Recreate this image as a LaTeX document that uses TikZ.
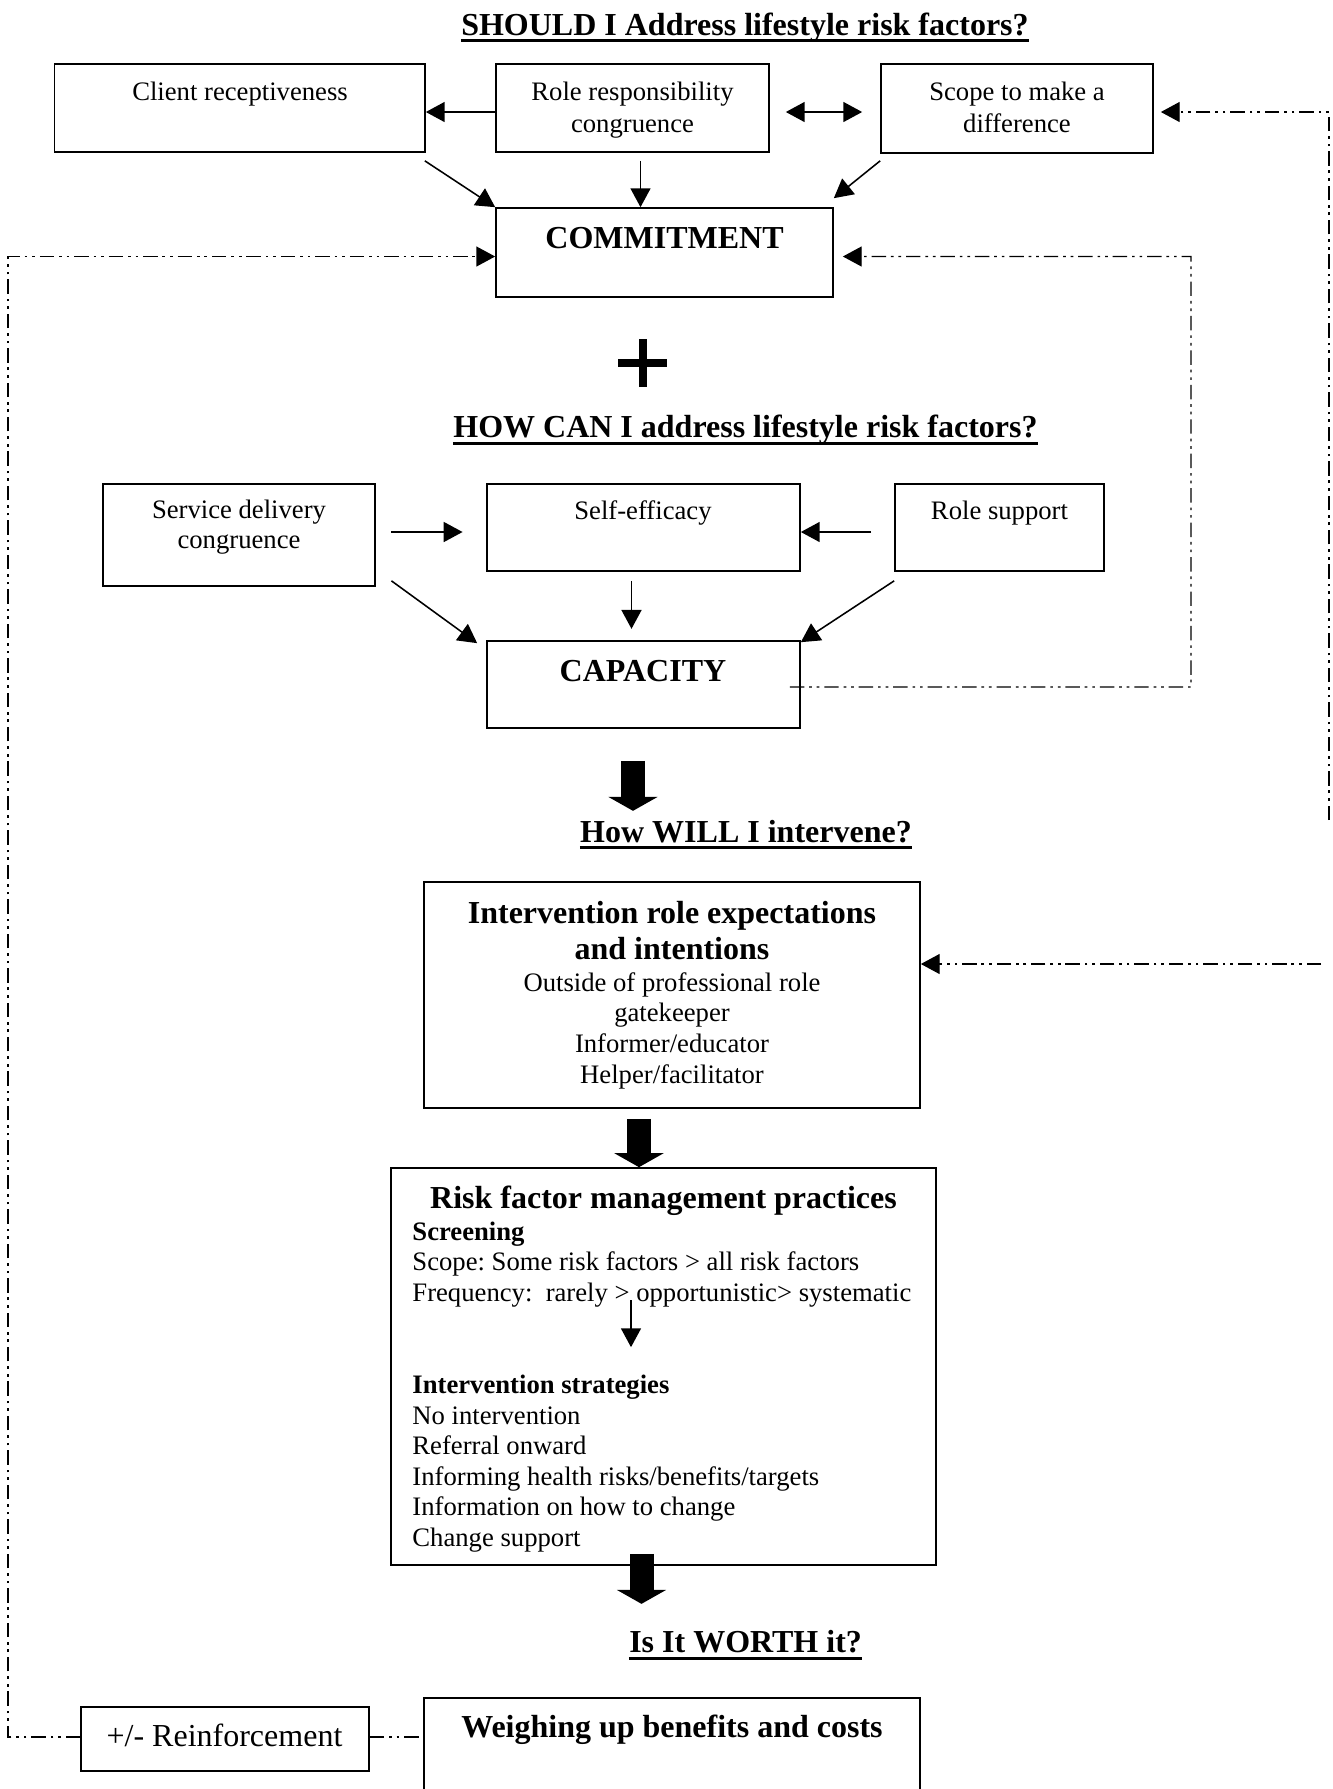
\documentclass[tikz,border=0pt]{standalone}
\usepackage{fontspec}
\setmainfont{Liberation Serif}
\usetikzlibrary{arrows.meta,calc,fit}
\frenchspacing
\begin{document}
\begin{tikzpicture}[x=0.45pt, y=-0.45pt,
  box/.style={draw, line width=0.75pt, inner sep=0pt, rectangle},
  txt/.style={inner sep=0pt, anchor=base, font=\fontsize{12}{14}\selectfont},
  txl/.style={txt, anchor=base west},
  txb/.style={txl, font=\fontsize{12}{14}\selectfont\bfseries},
  hd/.style={inner sep=0pt, anchor=base, font=\fontsize{14.4}{17}\selectfont\bfseries},
  big/.style={inner sep=0pt, anchor=base, font=\fontsize{14.4}{17}\selectfont},
  arr/.style={line width=0.7pt, -{Triangle[length=8.5pt,width=9pt]}},
  darr/.style={line width=0.7pt, {Triangle[length=8.5pt,width=9pt]}-{Triangle[length=8.5pt,width=9pt]}},
  dd/.style={line width=0.65pt, dash pattern=on 6.5pt off 2.2pt on 1.2pt off 2.2pt on 1.2pt off 2.2pt},
  ddarr/.style={dd, -{Triangle[length=8.5pt,width=9pt]}},
  blk/.style={line width=10.8pt, -{Triangle[length=6.3pt,width=22pt]}},
  uline/.style={line width=1.35pt}]

\fill[white] (0,0) rectangle (1333,1789);
\useasboundingbox (0,0) rectangle (1333,1789);
\clip (0,0) rectangle (1333,1789);

% ---------- titles ----------
\node[hd] (t1) at (745,35) {SHOULD I Address lifestyle risk factors?};
\draw[uline] ($(t1.base west)+(0,5)$) -- ($(t1.base east)+(0,5)$);
\node[hd] (t2) at (745.5,437) {HOW CAN I address lifestyle risk factors?};
\draw[uline] ($(t2.base west)+(0,6)$) -- ($(t2.base east)+(0,6)$);
\node[hd] (t3) at (746,842) {How WILL I intervene?};
\draw[uline] ($(t3.base west)+(0,5)$) -- ($(t3.base east)+(0,5)$);
\node[hd] (t4) at (745.6,1652) {Is It WORTH it?};
\draw[uline] ($(t4.base west)+(0,6)$) -- ($(t4.base east)+(0,6)$);

% ---------- boxes ----------
\node[box, fit={(54.5,64) (425,152)}] (client) {};
\node[box, fit={(496,64) (769,152)}] (role) {};
\node[box, fit={(881,64) (1153,153)}] (scope) {};
\node[box, fit={(496,208) (833,297)}] (commit) {};
\node[box, fit={(103,484) (375,586)}] (sd) {};
\node[box, fit={(487,484) (800,571)}] (self) {};
\node[box, fit={(895,484) (1104,571)}] (rs) {};
\node[box, fit={(487,641) (800,728)}] (cap) {};
\node[box, fit={(424,882) (920,1108)}] (inter) {};
\node[box, fit={(391,1168) (936,1565)}] (risk) {};
\node[box, fit={(81,1707) (369,1771)}] (rein) {};
\node[box, fit={(424,1698) (920,1800)}] (weigh) {};

% ---------- box texts ----------
\node[txt] (client-t) at (240,100) {Client receptiveness};
\node[txt] (role-t1) at (632.5,100) {Role responsibility};
\node[txt] (role-t2) at (632.5,132) {congruence};
\node[txt] (scope-t1) at (1017,100) {Scope to make a};
\node[txt] (scope-t2) at (1017,132) {difference};
\node[hd] (commit-t) at (664.5,248) {COMMITMENT};

\node[txt] (sd-t1) at (239,518) {Service delivery};
\node[txt] (sd-t2) at (239,548) {congruence};
\node[txt] (self-t) at (643,519) {Self-efficacy};
\node[txt] (rs-t) at (999.5,519) {Role support};
\node[hd] (cap-t) at (643,681) {CAPACITY};

\node[hd] (inter-h1) at (672,923.5) {Intervention role expectations};
\node[hd] (inter-h2) at (672,959) {and intentions};
\node[txt] (inter-1) at (672,991) {Outside of professional role};
\node[txt] (inter-2) at (672,1021.5) {gatekeeper};
\node[txt] (inter-3) at (672,1052.5) {Informer/educator};
\node[txt] (inter-4) at (672,1083.5) {Helper/facilitator};

\node[hd] (risk-h) at (663.5,1208) {Risk factor management practices};
\node[txb] (risk-s) at (412,1240) {Screening};
\node[txl] (risk-1) at (412,1270.5) {Scope: Some risk factors > all risk factors};
\node[txl] (risk-2) at (412,1301) {Frequency:\ \ rarely > opportunistic> systematic};
\node[txb] (risk-i) at (412,1393.5) {Intervention strategies};
\node[txl] (risk-3) at (412,1424) {No intervention};
\node[txl] (risk-4) at (412,1454.5) {Referral onward};
\node[txl] (risk-5) at (412,1485) {Informing health risks/benefits/targets};
\node[txl] (risk-6) at (412,1515.5) {Information on how to change};
\node[txl] (risk-7) at (412,1546) {Change support};

\node[hd] (weigh-t) at (672,1737) {Weighing up benefits and costs};
\node[big] (rein-t) at (224.5,1746) {+/- Reinforcement};

% ---------- plus sign ----------
\fill (618,359) rectangle (667,367);
\fill (638.5,339) rectangle (647,387);

% ---------- solid connectors ----------
\draw[arr] ($(role.west)+(0,4)$) -- ($(client.east)+(0,4)$);
\draw[darr] ($(role.east)+(16,4)$) -- ($(scope.west)+(-18,3.5)$);
\draw[arr] ($(client.south east)+(-1,8)$) -- (commit.north west);
\coordinate (rc) at ($(role.south)+(8,8)$);
\draw[arr] (rc) -- (rc |- commit.north);
\draw[arr] ($(scope.south west)+(0,7)$) -- ($(commit.north east)+(0,-9)$);

\draw[arr] ($(sd.east)+(15.6,-3)$) -- ($(self.west)+(-23.6,4.5)$);
\draw[arr] ($(rs.west)+(-23,4.5)$) -- ($(self.east)+(0,4.5)$);
\draw[arr] ($(sd.south east)+(15.6,-6)$) -- ($(cap.north west)+(-9,3)$);
\draw[arr] ($(self.south)+(-12,9)$) -- ($(self.south)+(-12,57)$);
\draw[arr] ($(rs.south west)+(0,9)$) -- ($(cap.north east)+(0,2)$);

\draw[arr] ($(risk.north)+(-32.5,133)$) -- ($(risk.north)+(-32.5,180)$);

% ---------- block arrows ----------
\coordinate (b1s) at ($(cap.south)+(-10.5,32)$);
\coordinate (b1e) at ($(cap.south)+(-10.5,82)$);
\draw[blk] (b1s) -- (b1e);
\coordinate (b2s) at ($(inter.south)+(-33,10)$);
\draw[blk] (b2s) -- (b2s |- risk.north);
\coordinate (b3s) at ($(risk.south)+(-22,-12)$);
\coordinate (b3e) at ($(risk.south)+(-22,38)$);
\draw[blk] (b3s) -- (b3e);

% ---------- dash-dot feedback lines ----------
\coordinate (lx) at (8,1737);
\draw[ddarr] ($(rein.west)+(0,-2)$) -| (lx) |- ($(commit.west)+(0,4)$);
\coordinate (r1) at ($(rein.east)+(0,-2)$);
\draw[dd] (r1) -- (r1 -| weigh.west);

\coordinate (cs) at ($(cap.east)+(-11,2.5)$);
\coordinate (cx) at (1191,256.5);
\draw[ddarr] (cs) -| (cx) -- ($(commit.east)+(9,4)$);

\coordinate (rb) at (1329,820);
\draw[ddarr] (rb) |- ($(scope.east)+(7,3.5)$);
\coordinate (ri) at (1321,964);
\draw[ddarr] (ri) -- (ri -| inter.east);

\end{tikzpicture}
\end{document}
